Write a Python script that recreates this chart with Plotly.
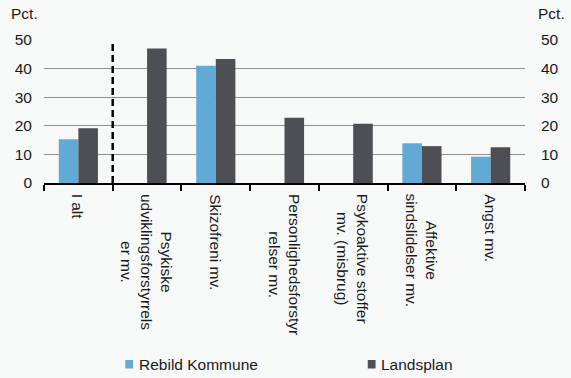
import plotly.graph_objects as go

categories = ["I alt", "Psykiske<br>udviklingsforstyrrels<br>er mv.", "Skizofreni mv.",
              "Personlighedsforstyr<br>relser mv.", "Psykoaktive stoffer<br>mv. (misbrug)",
              "Affektive<br>sindslidelser mv.", "Angst mv."]
rebild = [15.3, None, 41.0, None, None, 13.9, 9.2]
landsplan = [19.1, 47.0, 43.4, 22.8, 20.7, 12.9, 12.5]
yticks = [0, 10, 20, 30, 40, 50]
series_names = ["Rebild Kommune", "Landsplan"]

BLUE = "#62AAD6"
GRAY = "#4E4F54"
BG = "#F7F8F8"
TXT = "#1a1a1a"
FONT = "Liberation Sans, Arial, sans-serif"
FS = 15.5

fig = go.Figure()
fig.add_trace(go.Bar(x=categories, y=rebild, name=series_names[0], marker_color=BLUE,
                     marker_line_width=0, showlegend=False))
fig.add_trace(go.Bar(x=categories, y=landsplan, name=series_names[1], marker_color=GRAY,
                     marker_line_width=0, showlegend=False))
# right axis carrier
fig.add_trace(go.Scatter(x=[categories[0]], y=[None], yaxis="y2", showlegend=False,
                         mode="markers", hoverinfo="skip"))

fig.add_shape(type="line", xref="x", yref="y", x0=0.5, x1=0.5, y0=0, y1=49,
              line=dict(color="black", width=2.5, dash="7px,4px"))

PL, PW, PB, PH = 44, 494.0, 183, 143.0

annotations = []
# rotated category labels, centred lines
for c in categories:
    annotations.append(dict(text=c, xref="x", yref="paper", x=c, y=0, yshift=-9,
                            xanchor="center", yanchor="top", textangle=90, align="center",
                            showarrow=False, font=dict(size=FS, color=TXT)))
annotations += [
    dict(text="Pct.", xref="paper", yref="paper", x=0, y=1.0, xshift=-35, yshift=27,
         xanchor="left", yanchor="middle", showarrow=False, font=dict(size=FS, color=TXT)),
    dict(text="Pct.", xref="paper", yref="paper", x=1.0, y=1.0, xshift=11, yshift=27,
         xanchor="left", yanchor="middle", showarrow=False, font=dict(size=FS, color=TXT)),
]
# legend (manual, to match compact swatch spacing)
leg_x = [139.5, 388.5]
leg_colors = [BLUE, GRAY]
for name, lx, col in zip(series_names, leg_x, leg_colors):
    annotations.append(dict(text=name, xref="paper", yref="paper", x=(lx - PL) / PW,
                            y=(PB - 364) / PH, xanchor="left", yanchor="middle",
                            showarrow=False, font=dict(size=FS, color=TXT)))
    fig.add_shape(type="rect", xref="paper", yref="paper",
                  x0=(lx - 12 - PL) / PW, x1=(lx - 4 - PL) / PW,
                  y0=(PB - 368.5) / PH, y1=(PB - 360) / PH,
                  fillcolor=col, line_width=0)

fig.update_layout(
    width=571, height=378,
    paper_bgcolor=BG, plot_bgcolor=BG,
    margin=dict(l=44, r=33, t=40, b=195),
    barmode="group", bargap=0.43, bargroupgap=0,
    font=dict(family=FONT, size=FS, color=TXT),
    showlegend=False,
    xaxis=dict(type="category", showticklabels=False, showline=True, linecolor="black",
               linewidth=2, ticks="outside", ticklen=6, tickwidth=2, tickcolor="black",
               tickson="boundaries", showgrid=False),
    yaxis=dict(range=[0, 50], tickvals=yticks, showgrid=True, gridcolor="#909090",
               gridwidth=1, zeroline=False, showline=False, ticks="",
               ticklabelstandoff=11, tickfont=dict(size=FS)),
    yaxis2=dict(range=[0, 50], tickvals=yticks, overlaying="y", side="right",
                showgrid=False, zeroline=False, showline=False, ticks="",
                ticklabelstandoff=15, tickfont=dict(size=FS)),
    annotations=annotations,
)

fig.write_html("out.html", config={"displayModeBar": False},
               post_script="document.body.style.margin='0';")
